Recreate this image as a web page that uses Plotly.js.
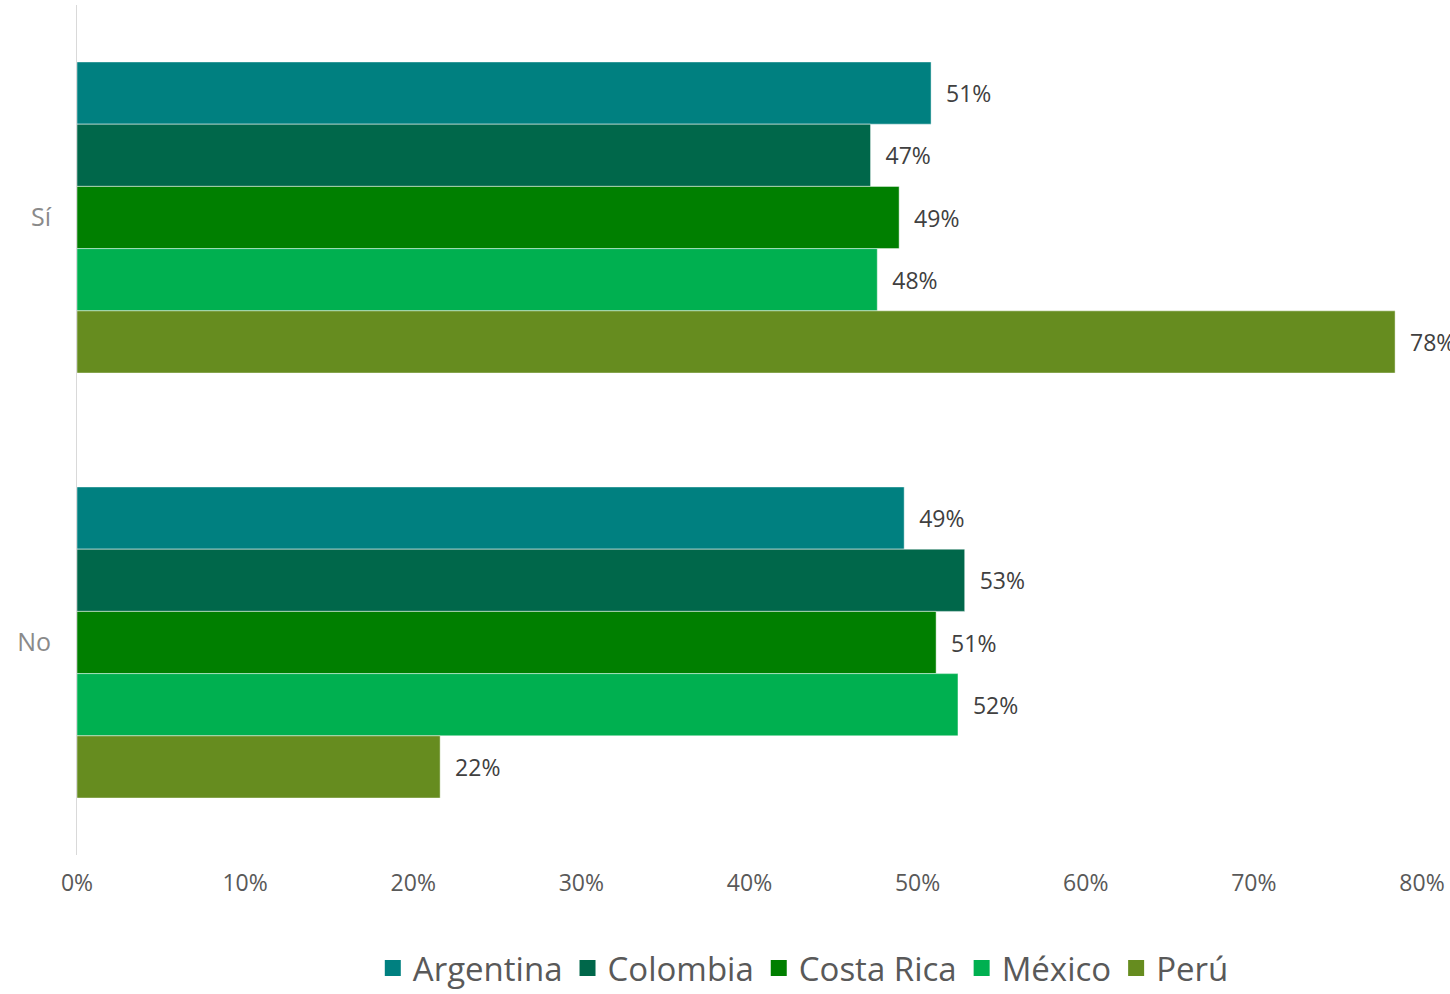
<!DOCTYPE html>
<html>
<head>
<meta charset="utf-8">
<script src="https://cdn.plot.ly/plotly-3.0.1.min.js"></script>
<style>html,body{margin:0;padding:0;background:#fff}#chart{width:1450px;height:994px}</style>
</head>
<body>
<div id="chart"></div>
<script>
const categories = ['Sí', 'No'];
const countries = ['Argentina', 'Colombia', 'Costa Rica', 'México', 'Perú'];
const argentina = [50.8, 49.2];
const colombia = [47.2, 52.8];
const costaRica = [48.9, 51.1];
const mexico = [47.6, 52.4];
const peru = [78.4, 21.6];
const colors = ['#008080', '#00674A', '#007F00', '#00B050', '#668C1F'];

const seriesValues = [argentina, colombia, costaRica, mexico, peru];

const traces = seriesValues.map((vals, i) => ({
  type: 'bar',
  orientation: 'h',
  name: countries[i],
  y: categories,
  x: vals,
  text: vals.map(v => '  ' + Math.round(v) + '%'),
  textposition: 'outside',
  constraintext: 'none',
  cliponaxis: false,
  textfont: {family: 'Open Sans', size: 23, color: '#404040'},
  marker: {color: colors[i], line: {color: 'rgba(255,255,255,0.45)', width: 1}},
  showlegend: false,
  hoverinfo: 'none'
}));

// legend-only entries with square swatches
countries.forEach((c, i) => {
  traces.push({
    type: 'scatter', mode: 'markers', name: c,
    x: [null], y: [null],
    marker: {symbol: 'square', size: 19, color: colors[i]},
    showlegend: true, hoverinfo: 'none'
  });
});

const layout = {
  width: 1450, height: 994,
  margin: {l: 77, r: 28, t: 5, b: 139, autoexpand: false},
  paper_bgcolor: '#ffffff', plot_bgcolor: '#ffffff',
  barmode: 'group',
  bargap: 0.268,
  bargroupgap: 0,
  font: {family: 'Open Sans', color: '#595959'},
  xaxis: {
    range: [0, 80], dtick: 10, ticksuffix: '%',
    showgrid: false, zeroline: false, showline: false, ticks: '',
    tickfont: {family: 'Open Sans', size: 23, color: '#595959'},
    ticklabelstandoff: 12,
    fixedrange: true
  },
  yaxis: {
    autorange: 'reversed',
    type: 'category',
    showgrid: false, zeroline: false, showline: true, linecolor: '#d9d9d9', linewidth: 1,
    ticks: '',
    tickfont: {family: 'Open Sans', size: 25, color: '#8a8a8a'},
    ticklabelstandoff: 20,
    fixedrange: true
  },
  showlegend: true,
  legend: {
    orientation: 'h', x: 0.54, xanchor: 'center', y: -0.1, yanchor: 'top',
    font: {family: 'Open Sans', size: 33, color: '#595959'},
    traceorder: 'normal', itemwidth: 30, itemsizing: 'trace'
  }
};

Plotly.newPlot('chart', traces, layout, {displayModeBar: false, staticPlot: true});
</script>
</body>
</html>
